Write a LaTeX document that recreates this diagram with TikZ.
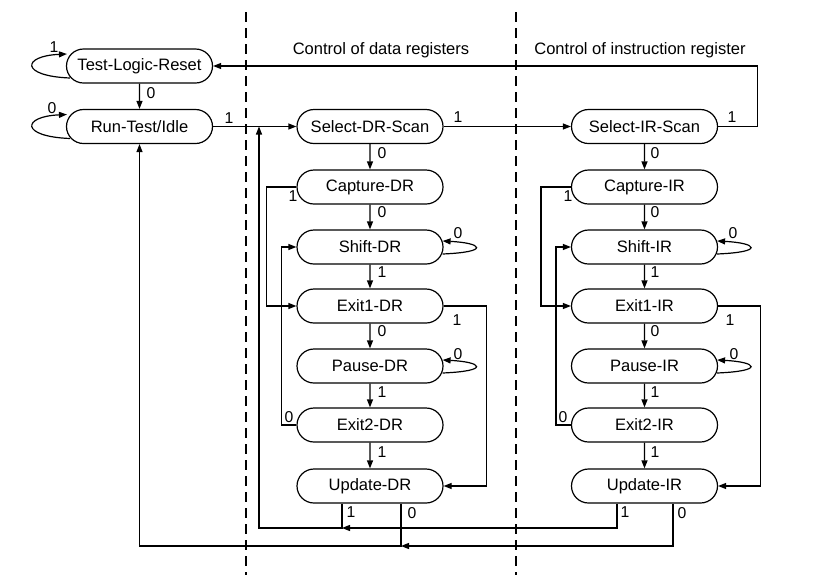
\documentclass[tikz,border=0pt]{standalone}
\usepackage{fontspec}
\setmainfont{Liberation Sans}
\usetikzlibrary{shapes.misc,arrows.meta,calc}
\begin{document}
\begin{tikzpicture}[x=0.75pt,y=-0.75pt,
  state/.style={draw, line width=0.9pt, rounded rectangle, minimum width=109.5pt, minimum height=25.5pt, inner sep=0pt, font=\fontsize{12.4}{14}\selectfont},
  conn/.style={line width=0.9pt},
  arr/.style={conn,-{Triangle[length=6pt,width=4.5pt]}},
  lbl/.style={font=\fontsize{11.8}{13}\selectfont, inner sep=0pt},
  hdr/.style={font=\fontsize{12.4}{14}\selectfont, inner sep=0pt},
  sep/.style={line width=1.9pt, dash pattern=on 7.5pt off 4.5pt}]
\useasboundingbox (0,0) rectangle (821,583);

% separators
\coordinate (s1t) at (246,12); \coordinate (s1b) at (246,575);
\coordinate (s2t) at (516,12); \coordinate (s2b) at (516,575);
\draw[sep] (s1t) -- (s1b);
\draw[sep] (s2t) -- (s2b);
\node[hdr] (h1) at (381,50) {Control of data registers};
\node[hdr] (h2) at (640,50) {Control of instruction register};

% states
\node[state] (tlr) at (139.5,66) {Test-Logic-Reset};
\node[state] (rti) at (139.5,126.5) {Run-Test/Idle};

\node[state] (sds) at (370,126.5) {Select-DR-Scan};
\node[state] (cdr) at (370,187) {Capture-DR};
\node[state] (shdr) at (370,247) {Shift-DR};
\node[state] (e1dr) at (370,306) {Exit1-DR};
\node[state] (pdr) at (370,366) {Pause-DR};
\node[state] (e2dr) at (370,425) {Exit2-DR};
\node[state] (udr) at (370,486) {Update-DR};

\node[state] (sis) at (644.5,126.5) {Select-IR-Scan};
\node[state] (cir) at (644.5,187) {Capture-IR};
\node[state] (shir) at (644.5,247) {Shift-IR};
\node[state] (e1ir) at (644.5,306) {Exit1-IR};
\node[state] (pir) at (644.5,366) {Pause-IR};
\node[state] (e2ir) at (644.5,425) {Exit2-IR};
\node[state] (uir) at (644.5,486) {Update-IR};

% junction coordinates
\coordinate (jr) at (259,126.5);
\coordinate (u1) at (342,528);
\coordinate (u0) at (401,546);
\coordinate (v1) at (617,528);
\coordinate (v0) at (673,546);

% left self loops
\draw[arr] ($(tlr.west)+(4,12)$) .. controls +(-50,-2) and +(-45,2) .. ($(tlr.west)+(1,-12)$);
\draw[arr] ($(rti.west)+(4,12)$) .. controls +(-50,-2) and +(-45,2) .. ($(rti.west)+(1,-12)$);

% top part
\draw[arr] (tlr) -- (rti);
\draw[arr] (rti.east) -- (sds.west);
\draw[arr] (sds.east) -- (sis.west);
\draw[arr] (sis.east) -- ++(39,0) |- (tlr.east);

% DR column
\draw[arr] (sds) -- (cdr);
\draw[arr] (cdr) -- (shdr);
\draw[arr] (shdr) -- (e1dr);
\draw[arr] (e1dr) -- (pdr);
\draw[arr] (pdr) -- (e2dr);
\draw[arr] (e2dr) -- (udr);
\draw[arr] (cdr.west) -- ++(-30,0) |- (e1dr.west);
\draw[arr] (e2dr.west) -- ++(-15,0) |- (shdr.west);
\draw[arr] (e1dr.east) -- ++(43,0) |- (udr.east);
\draw[arr] ($(shdr.east)+(-1,7)$) .. controls +(48,-2) and +(40,2) .. ($(shdr.east)+(-1,-6)$);
\draw[arr] ($(pdr.east)+(-1,7)$) .. controls +(48,-2) and +(40,2) .. ($(pdr.east)+(-1,-6)$);

% IR column
\draw[arr] (sis) -- (cir);
\draw[arr] (cir) -- (shir);
\draw[arr] (shir) -- (e1ir);
\draw[arr] (e1ir) -- (pir);
\draw[arr] (pir) -- (e2ir);
\draw[arr] (e2ir) -- (uir);
\draw[arr] (cir.west) -- ++(-30,0) |- (e1ir.west);
\draw[arr] (e2ir.west) -- ++(-15,0) |- (shir.west);
\draw[arr] (e1ir.east) -- ++(42,0) |- (uir.east);
\draw[arr] ($(shir.east)+(-1,7)$) .. controls +(48,-2) and +(40,2) .. ($(shir.east)+(-1,-6)$);
\draw[arr] ($(pir.east)+(-1,7)$) .. controls +(48,-2) and +(40,2) .. ($(pir.east)+(-1,-6)$);

% return paths
\draw[arr] (udr.south -| u1) -- (u1) -| (jr);
\draw[arr] (udr.south -| u0) -- (u0) -| (rti.south);
\draw[arr] (uir.south -| v1) -- (v1) -- (u1);
\draw[arr] (uir.south -| v0) -- (v0) -- (u0);

% labels
\node[lbl] (la1) at (54,47) {1};
\node[lbl] (la2) at (52,108) {0};
\node[lbl] (la3) at (151,93) {0};
\node[lbl] (la4) at (229,118) {1};
\node[lbl] (la5) at (458,117) {1};
\node[lbl] (la6) at (732,117) {1};

\node[lbl] (ld1) at (382,153) {0};
\node[lbl] (ld2) at (382,212) {0};
\node[lbl] (ld3) at (458,233) {0};
\node[lbl] (ld4) at (382,272) {1};
\node[lbl] (ld5) at (293,196) {1};
\node[lbl] (ld6) at (382,331) {0};
\node[lbl] (ld7) at (457,320) {1};
\node[lbl] (ld8) at (458,354) {0};
\node[lbl] (ld9) at (382,392) {1};
\node[lbl] (ld10) at (289,417) {0};
\node[lbl] (ld11) at (382,452) {1};
\node[lbl] (ld12) at (351,512) {1};
\node[lbl] (ld13) at (412,513) {0};

\node[lbl] (li1) at (655,153) {0};
\node[lbl] (li2) at (655,212) {0};
\node[lbl] (li3) at (733,233) {0};
\node[lbl] (li4) at (655,272) {1};
\node[lbl] (li5) at (568,196) {1};
\node[lbl] (li6) at (655,331) {0};
\node[lbl] (li7) at (730,320) {1};
\node[lbl] (li8) at (734,354) {0};
\node[lbl] (li9) at (655,392) {1};
\node[lbl] (li10) at (563,417) {0};
\node[lbl] (li11) at (655,452) {1};
\node[lbl] (li12) at (625,512) {1};
\node[lbl] (li13) at (682,513) {0};
\end{tikzpicture}
\end{document}
